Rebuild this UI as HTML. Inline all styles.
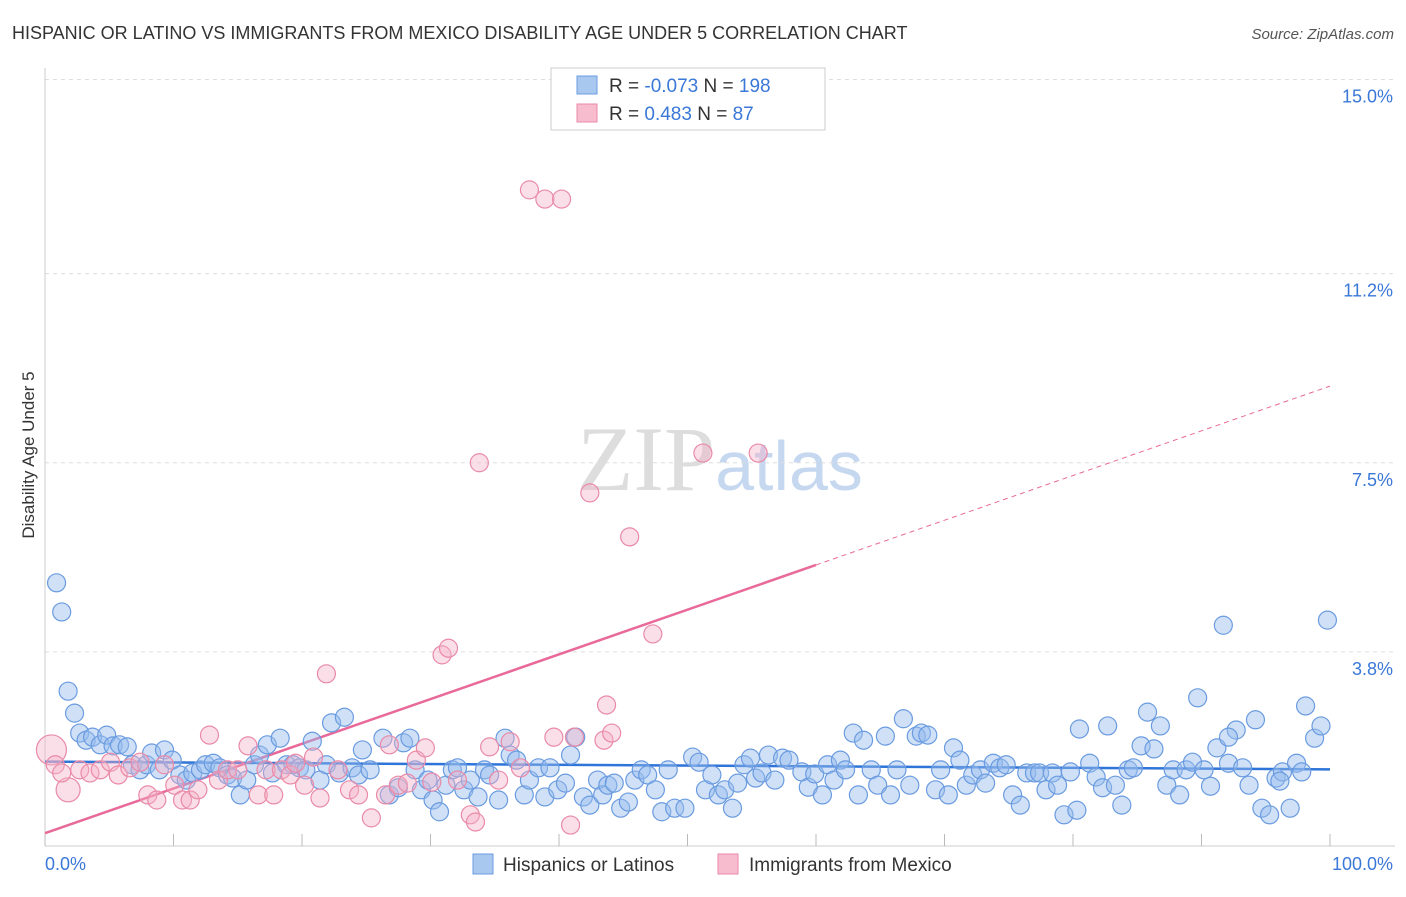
<!DOCTYPE html>
<html><head><meta charset="utf-8"><style>
body{margin:0;background:#fff;font-family:"Liberation Sans",sans-serif}
</style></head><body>
<svg id="chart" width="1406" height="892" xmlns="http://www.w3.org/2000/svg" font-family="Liberation Sans, sans-serif">
<text x="12" y="39" font-size="18" fill="#333">HISPANIC OR LATINO VS IMMIGRANTS FROM MEXICO DISABILITY AGE UNDER 5 CORRELATION CHART</text>
<text x="1394" y="39" font-size="15" fill="#555" text-anchor="end" font-style="italic">Source: ZipAtlas.com</text>
<text transform="translate(34,455) rotate(-90)" font-size="17" fill="#333" text-anchor="middle">Disability Age Under 5</text>
<text x="720" y="490" font-size="92" fill="#ddd" text-anchor="middle" font-family="Liberation Serif, serif">ZIP<tspan fill="#c5d8f0" font-family="Liberation Sans, sans-serif" font-size="70">atlas</tspan></text>
<g id="grid"></g><g id="ticks"></g><g id="trend"></g><g id="blue"></g><g id="pink"></g>
<g>
<rect x="551" y="68" width="274" height="62" fill="#fff" stroke="#ccc"/>
<rect x="577" y="76" width="20" height="18" fill="#a9c8f0" stroke="#6a9be0"/>
<rect x="577" y="104" width="20" height="18" fill="#f7bccd" stroke="#e98aa8"/>
<text x="609" y="92" font-size="19" fill="#333">R = <tspan fill="#3a78d8">-0.073</tspan>   N = <tspan fill="#3a78d8">198</tspan></text>
<text x="609" y="120" font-size="19" fill="#333">R =  <tspan fill="#3a78d8"> 0.483</tspan>   N =  <tspan fill="#3a78d8"> 87</tspan></text>
</g>
<g>
<rect x="473" y="854" width="20" height="20" fill="#a9c8f0" stroke="#6a9be0"/>
<text x="503" y="871" font-size="19" fill="#333">Hispanics or Latinos</text>
<rect x="718" y="854" width="20" height="20" fill="#f7bccd" stroke="#e98aa8"/>
<text x="749" y="871" font-size="19" fill="#333">Immigrants from Mexico</text>
</g>
</svg>
<script>
const yTicks=[3.8,7.5,11.2,15.0];
const yTickLabels=["3.8%","7.5%","11.2%","15.0%"];
const xTickLabels=["0.0%","100.0%"];
const blueX=[0.9,1.3,1.8,2.3,2.7,3.2,3.7,4.3,4.8,5.3,5.8,6.4,6.8,7.4,7.9,8.3,8.9,9.3,9.9,10.5,11.0,11.5,12.1,12.5,13.1,13.6,14.2,14.6,15.2,15.7,16.3,16.7,17.3,17.7,18.3,18.8,19.3,19.8,20.3,20.8,21.4,21.9,22.3,22.9,23.3,23.9,24.4,24.7,25.3,26.3,26.8,27.5,27.9,28.4,28.8,29.3,29.8,30.2,30.7,31.2,31.7,32.1,32.6,33.1,33.7,34.2,34.6,35.3,35.8,36.2,36.7,37.3,37.7,38.4,38.9,39.3,39.9,40.5,40.9,41.3,41.9,42.4,43.0,43.4,43.8,44.3,44.8,45.4,45.9,46.4,46.9,47.5,48.0,48.5,49.0,49.8,50.4,50.9,51.4,51.9,52.4,52.9,53.5,53.9,54.4,54.9,55.3,55.8,56.3,56.8,57.4,57.9,58.9,59.4,59.9,60.5,60.9,61.4,61.9,62.3,62.9,63.3,63.7,64.3,64.8,65.4,65.8,66.3,66.8,67.3,67.8,68.2,68.7,69.3,69.7,70.3,70.7,71.2,71.7,72.2,72.8,73.2,73.8,74.3,74.8,75.3,75.9,76.4,77.0,77.4,77.9,78.4,78.8,79.3,79.8,80.3,80.5,81.3,81.8,82.3,82.7,83.3,83.8,84.3,84.7,85.3,85.8,86.3,86.8,87.3,87.8,88.3,88.8,89.3,89.7,90.2,90.7,91.2,91.7,92.1,92.7,93.2,93.7,94.2,94.7,95.3,95.8,96.3,96.9,97.4,97.8,98.1,98.8,99.3,99.8,96.1,92.1];
const blueY=[5.15,4.58,3.03,2.6,2.21,2.07,2.13,1.98,2.17,1.96,1.98,1.94,1.59,1.49,1.59,1.82,1.49,1.88,1.68,1.39,1.29,1.43,1.49,1.59,1.62,1.53,1.39,1.33,1.0,1.29,1.59,1.78,1.98,1.43,2.11,1.59,1.59,1.53,1.49,2.05,1.29,1.59,2.41,1.43,2.52,1.53,1.39,1.88,1.49,2.11,1.0,1.14,2.02,2.11,1.49,1.1,1.29,0.9,0.67,1.19,1.49,1.53,1.1,1.29,0.96,1.49,1.39,0.9,2.11,1.78,1.68,1.0,1.29,1.53,0.96,1.53,1.1,1.23,1.78,2.13,0.96,0.8,1.29,1.0,1.19,1.23,0.74,0.86,1.29,1.49,1.39,1.1,0.67,1.49,0.74,0.74,1.74,1.64,1.1,1.39,1.0,1.1,0.74,1.23,1.59,1.72,1.33,1.43,1.78,1.29,1.72,1.68,1.45,1.15,1.41,1.0,1.59,1.29,1.68,1.49,2.21,1.0,2.07,1.49,1.19,2.15,1.0,1.49,2.49,1.19,2.15,2.21,2.17,1.1,1.49,1.0,1.92,1.68,1.19,1.39,1.49,1.23,1.62,1.53,1.59,1.0,0.8,1.43,1.43,1.43,1.1,1.43,1.19,0.61,1.45,0.7,2.29,1.62,1.35,1.14,2.35,1.19,0.8,1.49,1.53,1.96,2.62,1.9,2.35,1.19,1.49,1.0,1.49,1.64,2.9,1.49,1.17,1.92,4.32,1.62,2.27,1.53,1.19,2.47,0.74,0.61,1.33,1.45,0.74,1.62,1.45,2.74,2.11,2.35,4.42,1.27,2.13];
const pinkX=[0.5,0.8,1.8,1.3,2.7,3.5,4.3,5.1,5.7,6.6,7.4,8.0,8.7,9.3,10.1,10.7,11.3,11.9,12.8,13.5,14.2,15.0,15.8,16.6,17.2,17.8,18.4,19.1,19.5,20.2,20.9,21.4,21.9,22.8,23.7,24.4,25.4,26.5,26.8,27.5,28.2,28.9,29.6,30.1,30.9,31.4,32.1,33.1,33.5,33.8,34.6,35.3,36.2,37.0,37.7,38.9,40.2,39.6,40.9,41.2,42.4,43.5,43.7,44.1,45.5,47.3,51.2,55.5];
const pinkY=[1.88,1.59,1.1,1.43,1.49,1.43,1.49,1.64,1.39,1.53,1.64,1.0,0.9,1.59,1.19,0.9,0.9,1.1,2.17,1.29,1.49,1.49,1.96,1.0,1.49,1.0,1.49,1.39,1.62,1.19,1.74,0.94,3.37,1.49,1.1,1.0,0.55,1.0,1.98,1.19,1.23,1.68,1.92,1.25,3.74,3.87,1.29,0.61,0.47,7.5,1.94,1.29,2.04,1.53,12.84,12.66,12.66,2.13,0.41,2.13,6.91,2.07,2.76,2.21,6.05,4.15,7.69,7.69];
const pinkR=[15,9,12,9,9,9,9,9,9,9,9,9,9,9,9,9,9,9,9,9,9,9,9,9,9,9,9,9,9,9,9,9,9,9,9,9,9,9,9,9,9,9,9,9,9,9,9,9,9,9,9,9,9,9,9,9,9,9,9,9,9,9,9,9,9,9,9,9];
const blueTrend=[1.65,1.5];
const pinkTrend=[0.25,9.0];
const NS='http://www.w3.org/2000/svg';
const X=v=>45+v*12.85, Y=v=>846-v*51.1;
function mk(tag,parent,attrs){const e=document.createElementNS(NS,tag);for(const k in attrs)e.setAttribute(k,attrs[k]);document.getElementById(parent).appendChild(e);return e;}
yTicks.forEach((t,i)=>{
 const l=mk('line','grid',{x1:45,x2:1395,y1:Y(t),y2:Y(t),stroke:'#ddd','stroke-dasharray':'4,4'});
 
 
 const tx=mk('text','grid',{x:1393,y:Y(t)+23,'font-size':18,fill:'#3a78d8','text-anchor':'end'});
 tx.textContent=yTickLabels[i];
 
 
});
const ax=mk('line','grid',{x1:45,x2:45,y1:68,y2:846,stroke:'#ccc'});


const bx=mk('line','grid',{x1:45,x2:1395,y1:846,y2:846,stroke:'#ccc'});


for(let i=0;i<=10;i++){const t=mk('line','ticks',{x1:X(i*10),x2:X(i*10),y1:834,y2:846,stroke:'#bbb'});
 
 }
[[0,'start',45],[100,'end',1393]].forEach((d,i)=>{const t=mk('text','ticks',{x:d[2],y:870,'font-size':18,fill:'#3a78d8','text-anchor':d[1]});t.textContent=xTickLabels[i];
 
 });
blueX.forEach((x,i)=>{const c=mk('circle','blue',{cx:X(x),cy:Y(blueY[i]),r:9,fill:'rgba(150,188,238,0.45)',stroke:'#6a9be0','stroke-width':1.2});
 
 });
pinkX.forEach((x,i)=>{const c=mk('circle','pink',{cx:X(x),cy:Y(pinkY[i]),r:pinkR[i],fill:'rgba(245,175,198,0.4)',stroke:'#e98aa8','stroke-width':1.2});
 
 });
const bt=mk('line','trend',{x1:X(0),y1:Y(blueTrend[0]),x2:X(100),y2:Y(blueTrend[1]),stroke:'#2f74d8','stroke-width':2.5});


const pm=pinkTrend[0]+(pinkTrend[1]-pinkTrend[0])*0.6;
const pt=mk('line','trend',{x1:X(0),y1:Y(pinkTrend[0]),x2:X(60),y2:Y(pm),stroke:'#e8699a','stroke-width':2.5});


const pd=mk('line','trend',{x1:X(60),y1:Y(pm),x2:X(100),y2:Y(pinkTrend[1]),stroke:'#e8699a','stroke-width':1,'stroke-dasharray':'5,4'});


</script>
</body></html>
